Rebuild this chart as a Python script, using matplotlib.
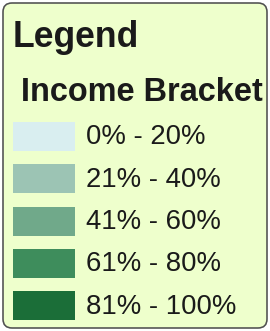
import numpy as np
import matplotlib
matplotlib.use('Agg')
from matplotlib import pyplot as plt
from matplotlib.patches import FancyBboxPatch

# legend content
title = 'Legend'
subtitle = 'Income Bracket'
brackets = ['0% - 20%', '21% - 40%', '41% - 60%', '61% - 80%', '81% - 100%']
colors = ['#d9eef0', '#9cc4b4', '#70a98a', '#3e8d5c', '#1b6e38']

W, H, DPI = 270, 331, 72
plt.rcParams['font.family'] = ['Liberation Sans', 'DejaVu Sans']

fig = plt.figure(figsize=(W / DPI, H / DPI), dpi=DPI)
ax = fig.add_axes([0, 0, 1, 1])
ax.set_xlim(0, W)
ax.set_ylim(H, 0)
ax.axis('off')

# rounded panel
panel = FancyBboxPatch((3, 3), 264, 325, boxstyle='round,pad=0,rounding_size=9',
                       facecolor='#eeffcc', edgecolor='#505050', linewidth=1.6)
ax.add_patch(panel)

ax.text(13, 47, title, fontsize=35.5, fontweight='bold', color='#1a1a1a',
        ha='left', va='baseline')
ax.text(21, 101, subtitle, fontsize=32.5, fontweight='bold', color='#1a1a1a',
        ha='left', va='baseline')

ypos = 136.5 + 42.3 * np.arange(len(brackets))
ax.barh(ypos, 62, left=13, height=29, color=colors)
for y, lab in zip(ypos, brackets):
    ax.text(86, y + 1, lab, fontsize=27.5, color='#1a1a1a', ha='left', va='center')

fig.savefig('out.png', dpi=DPI)
